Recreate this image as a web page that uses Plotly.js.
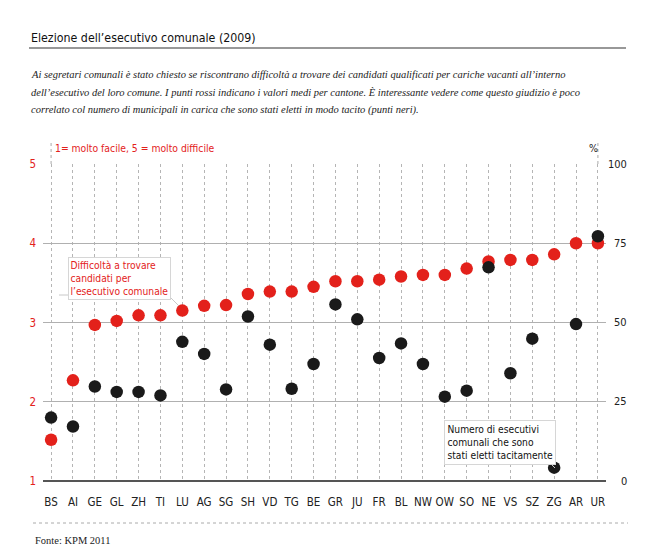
<!DOCTYPE html>
<html>
<head>
<meta charset="utf-8">
<script src="https://cdn.plot.ly/plotly-3.0.1.min.js"></script>
<style>
html,body{margin:0;padding:0;background:#fff;}
#chart{width:650px;height:555px;}
</style>
</head>
<body>
<div id="chart"></div>
<script>
// ---- data ----
const cantons = ["BS","AI","GE","GL","ZH","TI","LU","AG","SG","SH","VD","TG","BE","GR","JU","FR","BL","NW","OW","SO","NE","VS","SZ","ZG","AR","UR"];
const difficulty = [1.52,2.27,2.97,3.02,3.09,3.09,3.15,3.21,3.22,3.36,3.39,3.39,3.45,3.52,3.52,3.54,3.58,3.60,3.60,3.68,3.77,3.79,3.79,3.86,4.00,4.00];
const tacitPct = [20.0,17.2,29.8,28.1,28.1,27.0,43.9,40.1,28.9,51.9,43.0,29.1,36.9,55.7,51.0,38.8,43.4,36.9,26.6,28.5,67.4,34.0,44.9,4.2,49.5,77.2];
const leftTicks = [1,2,3,4,5];
const rightTicks = [0,25,50,75,100];

const titleText = "Elezione dell’esecutivo comunale (2009)";
const subtitleLines = [
  "Ai segretari comunali è stato chiesto se riscontrano difficoltà a trovare dei candidati qualificati per cariche vacanti all’interno",
  "dell’esecutivo del loro comune. I punti rossi indicano i valori medi per cantone. È interessante vedere come questo giudizio è poco",
  "correlato col numero di municipali in carica che sono stati eletti in modo tacito (punti neri)."
];
const scaleNote = "1= molto facile, 5 = molto difficile";
const redLabel = "Difficoltà a trovare<br>candidati per<br>l’esecutivo comunale";
const blackLabel = "Numero di esecutivi<br>comunali che sono<br>stati eletti tacitamente";
const sourceText = "Fonte: KPM 2011";

// ---- layout geometry (pixels) ----
const W = 650, H = 555;
const L = 43, R = 606, T = 164, B = 481;
const px = x => (x - L) / (R - L);
const py = y => (B - y) / (B - T);

const RED = "#e3211b";
const DARK = "#1a1a1a";
const COND = "'DejaVu Sans Condensed','Liberation Sans Narrow','Roboto',sans-serif";
const SERIF = "'Liberation Serif','DejaVu Serif',serif";

const idx = cantons.map((c, i) => i);

const traces = [
  {
    x: idx, y: difficulty, type: "scatter", mode: "markers",
    marker: {color: RED, size: 12.5}, yaxis: "y", hoverinfo: "skip", cliponaxis: false
  },
  {
    x: idx, y: tacitPct, type: "scatter", mode: "markers",
    marker: {color: DARK, size: 12.5}, yaxis: "y2", hoverinfo: "skip", cliponaxis: false
  }
];

const annotations = [];
// title
annotations.push({xref:"paper", yref:"paper", x:px(29), y:py(38), xanchor:"left", yanchor:"middle",
  text:titleText, showarrow:false, font:{family:COND, size:12.3, color:"#111"}});
// subtitle
subtitleLines.forEach((t, i) => {
  annotations.push({xref:"paper", yref:"paper", x:px(29), y:py(75 + i*17.5), xanchor:"left", yanchor:"middle",
    text:"<i>"+t+"</i>", showarrow:false, font:{family:SERIF, size:10.5, color:"#222"}});
});
// scale note
annotations.push({xref:"paper", yref:"paper", x:px(53), y:py(148), xanchor:"left", yanchor:"middle",
  text:scaleNote, showarrow:false, font:{family:COND, size:10.3, color:RED}});
annotations.push({xref:"paper", yref:"paper", x:px(593), y:py(148), xanchor:"center", yanchor:"middle",
  text:"%", showarrow:false, font:{family:COND, size:10.5, color:"#222"}});
// right axis labels (right-aligned)
rightTicks.forEach(v => {
  annotations.push({xref:"paper", yref:"y2", x:px(629), y:v, xanchor:"right", yanchor:"middle",
    text:String(v), showarrow:false, font:{family:COND, size:11, color:"#222"}});
});
// red label box
annotations.push({xref:"paper", yref:"paper", x:px(68), y:py(257), xanchor:"left", yanchor:"top",
  text:redLabel, align:"left", showarrow:false, bgcolor:"#ffffff", bordercolor:"#d6d6d6", borderwidth:1, borderpad:1.5,
  font:{family:COND, size:10.2, color:RED}});
// black label box
annotations.push({xref:"paper", yref:"paper", x:px(444), y:py(420), xanchor:"left", yanchor:"top",
  text:blackLabel, align:"left", showarrow:false, bgcolor:"#ffffff", bordercolor:"#d6d6d6", borderwidth:1, borderpad:2.5,
  font:{family:COND, size:10.2, color:"#111"}});
// source
annotations.push({xref:"paper", yref:"paper", x:px(33), y:py(540), xanchor:"left", yanchor:"middle",
  text:sourceText, showarrow:false, font:{family:SERIF, size:10.5, color:"#222"}});

const shapes = [
  // title rule
  {type:"line", xref:"paper", yref:"paper", x0:px(29), x1:px(626), y0:py(48), y1:py(48), line:{color:"#333", width:1.2}},
  // bottom dotted separator
  {type:"line", xref:"paper", yref:"paper", x0:px(33), x1:px(628), y0:py(523), y1:py(523), line:{color:"#aaa", width:1, dash:"dot"}},
  // extended dotted verticals for first and last category
  {type:"line", xref:"x", yref:"paper", x0:0, x1:0, y0:1, y1:py(142), line:{color:"#aaa", width:1, dash:"dot"}},
  {type:"line", xref:"x", yref:"paper", x0:cantons.length-1, x1:cantons.length-1, y0:1, y1:py(142), line:{color:"#aaa", width:1, dash:"dot"}},
  // leader for red label
  {type:"path", xref:"paper", yref:"paper", layer:"below",
    path:`M ${px(59)} ${py(295)} L ${px(168)} ${py(295)} L ${px(181)} ${py(308)}`, line:{color:"#c8c8c8", width:1}},
  // leader for black label
  {type:"line", xref:"paper", yref:"paper", x0:px(549), y0:py(462), x1:px(555), y1:py(468), line:{color:"#c8c8c8", width:1}},
  // baseline
  {type:"line", xref:"paper", yref:"paper", x0:0, x1:1, y0:0, y1:0, line:{color:"#555", width:2}}
];

const layout = {
  width: W, height: H,
  margin: {l: L, r: W - R, t: T, b: H - B, pad: 0},
  paper_bgcolor: "#fff", plot_bgcolor: "#fff",
  showlegend: false,
  xaxis: {
    range: [-0.37, cantons.length - 1 + 0.37],
    tickvals: idx, ticktext: cantons,
    showgrid: true, gridcolor: "#b5b5b5", griddash: "dot", gridwidth: 1,
    zeroline: false, showline: false, ticks: "",
    ticklabelstandoff: 12,
    tickfont: {family: COND, size: 11.5, color: "#222"},
    fixedrange: true
  },
  yaxis: {
    range: [1, 5], tickvals: leftTicks,
    showgrid: true, gridcolor: "#b0b0b0", gridwidth: 1,
    zeroline: false, showline: false, ticks: "",
    ticklabelstandoff: 6,
    tickfont: {family: COND, size: 11.5, color: RED},
    fixedrange: true
  },
  yaxis2: {
    range: [0, 100], tickvals: rightTicks, overlaying: "y", side: "right",
    showgrid: false, zeroline: false, showline: false, showticklabels: false, ticks: "",
    fixedrange: true
  },
  annotations: annotations,
  shapes: shapes
};

Plotly.newPlot("chart", traces, layout, {displayModeBar: false, staticPlot: true});
</script>
</body>
</html>
